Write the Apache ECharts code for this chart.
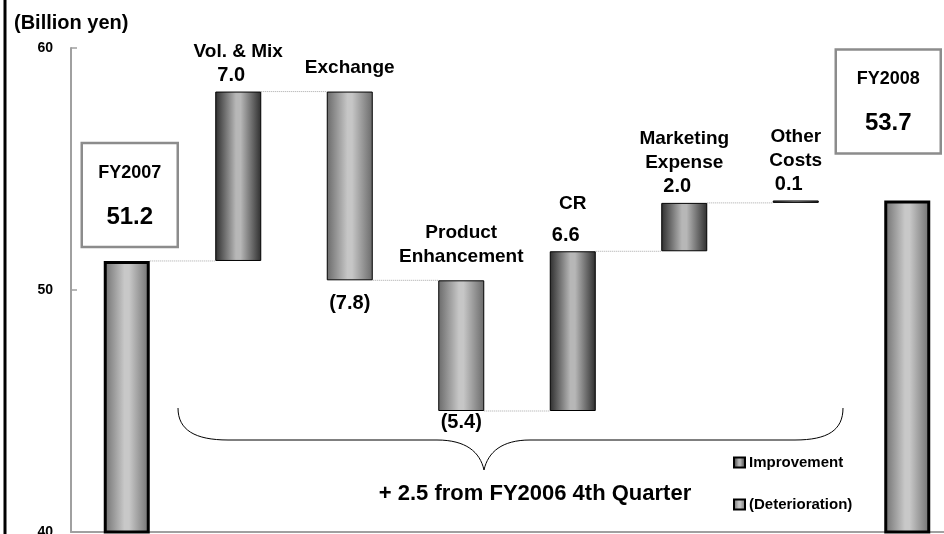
<!DOCTYPE html>
<html>
<head>
<meta charset="utf-8">
<title>Operating income change FY2007 - FY2008</title>
<script src="https://cdn.jsdelivr.net/npm/echarts@6/dist/echarts.min.js"></script>
<style>
  html, body { margin: 0; padding: 0; background: #fff; }
  #main { width: 944px; height: 534px; }
</style>
</head>
<body>
<div id="main"></div>
<script>
// chart data
const categories = ['FY2007', 'Vol. & Mix', 'Exchange', 'Product\nEnhancement', 'CR', 'Marketing\nExpense', 'Other\nCosts', 'FY2008'];
const startValue = 51.2;
const changes = [7.0, -7.8, -5.4, 6.6, 2.0, 0.1];
const endValue = 53.7;
const yTicks = [40, 50, 60];
const legendNames = ['Improvement', '(Deterioration)'];
const unitText = '(Billion yen)';
const noteText = '+ 2.5 from FY2006 4th Quarter';

const FONT = '"Liberation Sans", Arial, sans-serif';
const BAR_W = 46;

// build the waterfall pieces
const base = ['-'], up = ['-'], down = ['-'], total = [startValue], levels = [startValue];
let level = startValue;
changes.forEach((d, k) => {
  const i = k + 1;
  const next = +(level + d).toFixed(1);
  base[i] = Math.min(level, next);
  up[i] = d > 0 ? d : '-';
  down[i] = d < 0 ? -d : '-';
  total[i] = '-';
  level = next;
  levels.push(level);
});
base.push('-'); up.push('-'); down.push('-'); total.push(endValue);
levels.pop(); // last level joins to FY2008 bar

const hGrad = (edge, mid) => new echarts.graphic.LinearGradient(0, 0, 1, 0, [
  { offset: 0, color: edge },
  { offset: 0.45, color: mid },
  { offset: 0.55, color: mid },
  { offset: 1, color: edge }
]);
const upColor = hGrad('#2e2e2e', '#b7b7b7');
const downColor = hGrad('#6a6a6a', '#c6c6c6');
const totalColor = hGrad('#6e6e6e', '#c8c8c8');

const nameRich = {
  n: { fontFamily: FONT, fontSize: 19, fontWeight: 'bold', color: '#000', lineHeight: 24 },
  v: { fontFamily: FONT, fontSize: 20, fontWeight: 'bold', color: '#000', lineHeight: 24, padding: [0, 14, 0, 0] }
};

// CR name sits a bit higher above its value
const upData = up.map((v, i) => {
  if (i !== 4) return v;
  return {
    value: v,
    label: { rich: { n: Object.assign({}, nameRich.n, { lineHeight: 40 }), v: nameRich.v } }
  };
});

// base series carries the "(x.x)" labels under the falling bars
const baseData = base.map((v, i) => {
  if (down[i] === '-') return v;
  return {
    value: v,
    label: {
      show: true,
      position: 'insideTop',
      distance: i === 2 ? 12 : 0,
      formatter: '(' + down[i].toFixed(1) + ')'
    }
  };
});

const totalData = total.map((v, i) => {
  if (v === '-') return v;
  const first = i === 0;
  return {
    value: v,
    label: {
      distance: first ? 14 : 47,
      offset: first ? [3, 0] : [-19, 0],
      width: first ? 96 : 105
    }
  };
});

const chart = echarts.init(document.getElementById('main'), null, { renderer: 'canvas' });

chart.setOption({
  animation: false,
  backgroundColor: '#fff',
  title: {
    text: unitText,
    left: 9,
    top: 8,
    textStyle: { fontFamily: FONT, fontSize: 20, fontWeight: 'bold', color: '#000' }
  },
  legend: {
    data: legendNames,
    orient: 'vertical',
    left: 733,
    top: 455,
    padding: 0,
    itemWidth: 11,
    itemHeight: 10,
    itemGap: 27,
    icon: 'rect',
    selectedMode: false,
    textStyle: { fontFamily: FONT, fontSize: 15, fontWeight: 'bold', color: '#000', padding: [0, 0, 0, -1] }
  },
  grid: { left: 71, width: 892, top: 48, bottom: 2, outerBoundsMode: 'none', containLabel: false },
  xAxis: {
    type: 'category',
    data: categories,
    axisLine: { lineStyle: { color: '#a0a0a0', width: 2 } },
    axisTick: { inside: true, length: 5, lineStyle: { color: '#a0a0a0', width: 1.5 } },
    axisLabel: { show: false }
  },
  yAxis: {
    type: 'value',
    min: yTicks[0],
    max: yTicks[yTicks.length - 1],
    interval: yTicks[1] - yTicks[0],
    axisLine: { show: true, lineStyle: { color: '#a0a0a0', width: 2 } },
    axisTick: { show: true, inside: true, length: 6, lineStyle: { color: '#a0a0a0', width: 1.5 } },
    splitLine: { show: false },
    axisLabel: { fontFamily: FONT, fontSize: 14, fontWeight: 'bold', color: '#000', margin: 18 }
  },
  series: [
    {
      name: 'base',
      type: 'bar',
      stack: 'w',
      barWidth: BAR_W,
      silent: true,
      itemStyle: { color: 'transparent' },
      label: {
        show: false,
        fontFamily: FONT, fontSize: 20, fontWeight: 'bold', color: '#000', lineHeight: 22
      },
      data: baseData
    },
    {
      name: legendNames[0],
      type: 'bar',
      stack: 'w',
      barWidth: BAR_W,
      itemStyle: { color: upColor, borderColor: '#000', borderWidth: 1 },
      label: {
        show: true,
        position: 'top',
        distance: 4,
        align: 'center',
        formatter: p => '{n|' + categories[p.dataIndex] + '}\n{v|' + p.value.toFixed(1) + '}',
        rich: nameRich
      },
      data: upData
    },
    {
      name: legendNames[1],
      type: 'bar',
      stack: 'w',
      barWidth: BAR_W,
      itemStyle: { color: downColor, borderColor: '#000', borderWidth: 1 },
      label: {
        show: true,
        position: 'top',
        distance: 12,
        formatter: p => '{n|' + categories[p.dataIndex] + '}',
        rich: nameRich
      },
      data: down
    },
    {
      name: 'total',
      type: 'bar',
      stack: 'w',
      barWidth: BAR_W,
      itemStyle: { color: totalColor, borderColor: '#000', borderWidth: 3 },
      label: {
        show: true,
        position: 'top',
        borderColor: '#8c8c8c',
        borderWidth: 2.5,
        padding: [8, 0, 8, 0],
        align: 'center',
        formatter: p => '{n|' + categories[p.dataIndex] + '}\n{v|' + p.value.toFixed(1) + '}',
        rich: {
          n: { fontFamily: FONT, fontSize: 18, fontWeight: 'bold', color: '#000', lineHeight: 44 },
          v: { fontFamily: FONT, fontSize: 24, fontWeight: 'bold', color: '#000', lineHeight: 44 }
        }
      },
      data: totalData
    },
    {
      // dotted connectors between the bars
      name: 'connector',
      type: 'custom',
      silent: true,
      z: 1,
      encode: { x: 0, y: 1 },
      data: levels.map((v, i) => [i, v]),
      renderItem: function (params, api) {
        const i = api.value(0);
        const v = api.value(1);
        const a = api.coord([i, v]);
        const b = api.coord([i + 1, v]);
        return {
          type: 'line',
          shape: { x1: a[0] + BAR_W / 2, y1: a[1], x2: b[0] - BAR_W / 2, y2: b[1] },
          style: { stroke: '#a8a8a8', lineWidth: 1, lineDash: [1, 1] }
        };
      }
    }
  ],
  graphic: [
    // frame line on the left
    { type: 'line', shape: { x1: 5, y1: 0, x2: 5, y2: 534 }, style: { stroke: '#000', lineWidth: 3 } },
    // brace under the change bars
    { type: 'bezierCurve', shape: { x1: 178, y1: 408, cpx1: 178, cpy1: 430, cpx2: 195, cpy2: 440, x2: 228, y2: 440 }, style: { stroke: '#000', lineWidth: 1, fill: null } },
    { type: 'line', shape: { x1: 228, y1: 440, x2: 437, y2: 440 }, style: { stroke: '#000', lineWidth: 1 } },
    { type: 'bezierCurve', shape: { x1: 437, y1: 440, cpx1: 466, cpy1: 440, cpx2: 480, cpy2: 452, x2: 484, y2: 470 }, style: { stroke: '#000', lineWidth: 1, fill: null } },
    { type: 'bezierCurve', shape: { x1: 484, y1: 470, cpx1: 488, cpy1: 452, cpx2: 502, cpy2: 440, x2: 530, y2: 440 }, style: { stroke: '#000', lineWidth: 1, fill: null } },
    { type: 'line', shape: { x1: 530, y1: 440, x2: 795, y2: 440 }, style: { stroke: '#000', lineWidth: 1 } },
    { type: 'bezierCurve', shape: { x1: 795, y1: 440, cpx1: 828, cpy1: 440, cpx2: 843, cpy2: 430, x2: 843, y2: 408 }, style: { stroke: '#000', lineWidth: 1, fill: null } },
    {
      type: 'text',
      x: 535,
      y: 494,
      style: {
        text: noteText,
        fontFamily: FONT,
        fontSize: 22,
        fontWeight: 'bold',
        fill: '#000',
        align: 'center',
        verticalAlign: 'middle'
      }
    }
  ]
});
</script>
</body>
</html>
